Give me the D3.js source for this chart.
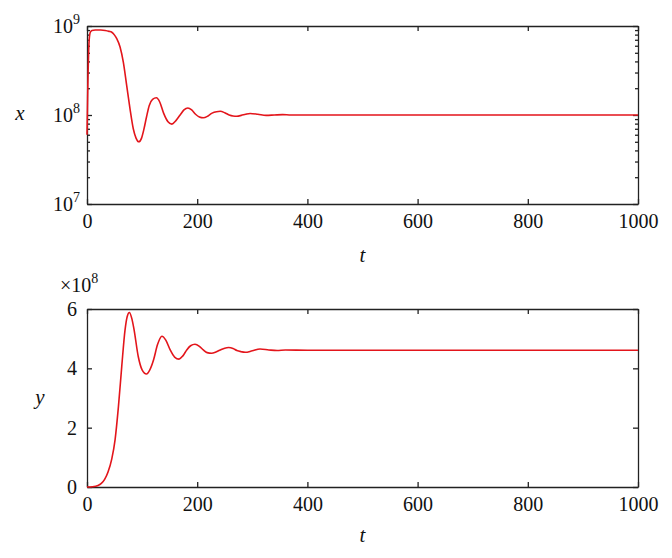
<!DOCTYPE html>
<html>
<head>
<meta charset="utf-8">
<script src="https://cdn.jsdelivr.net/npm/d3@7"></script>
<style>
  body { margin: 0; background: #fff; }
  svg { display: block; }
  .axis path, .axis line { stroke: #222; stroke-width: 1.3; }
  .curve { fill: none; stroke: #e3151b; stroke-width: 1.6; }
</style>
</head>
<body>
<svg width="672" height="558"></svg>
<script>
// top panel: x(t), log scale
const tX = [0, 1, 2, 3, 4, 6, 9, 15, 25, 33, 40, 45, 50, 54, 60, 66, 72, 78, 84, 89, 94, 99, 103, 108, 113, 119, 126, 132, 139, 147, 154, 161, 169, 176, 183, 190, 197, 204, 211, 219, 227, 235, 242, 250, 258, 265, 272, 280, 288, 296, 310, 325, 340, 355, 370, 400, 600, 800, 1000];
const xVals = [6e7, 1.4e8, 3e8, 5.2e8, 7e8, 8.5e8, 8.9e8, 9.0e8, 9.0e8, 8.9e8, 8.7e8, 8.5e8, 7.9e8, 7.2e8, 5.8e8, 3.9e8, 2.15e8, 1.18e8, 7e7, 5.5e7, 5.0e7, 5.5e7, 6.8e7, 9.5e7, 1.28e8, 1.5e8, 1.56e8, 1.4e8, 1.05e8, 8.4e7, 7.9e7, 8.6e7, 1.0e8, 1.14e8, 1.2e8, 1.14e8, 1.02e8, 9.5e7, 9.3e7, 9.7e7, 1.05e8, 1.09e8, 1.1e8, 1.06e8, 1.0e8, 9.75e7, 9.7e7, 9.9e7, 1.02e8, 1.04e8, 1.02e8, 9.9e7, 1.0e8, 1.01e8, 1.0e8, 1.0e8, 1.0e8, 1.0e8, 1.0e8];

// bottom panel: y(t), in units of 1e8
const tY = [0, 10, 20, 26, 32, 38, 45, 51, 57, 63, 69, 73, 77, 81, 85, 93, 100, 108, 114, 121, 128, 136, 143, 151, 159, 167, 174, 181, 188, 196, 204, 211, 218, 226, 234, 242, 250, 257, 265, 272, 280, 287, 300, 314, 330, 345, 360, 400, 600, 800, 1000];
const yVals = [0, 0.01, 0.05, 0.12, 0.26, 0.5, 0.95, 1.6, 2.7, 4.05, 5.29, 5.75, 5.88, 5.7, 5.35, 4.4, 3.95, 3.81, 3.95, 4.3, 4.8, 5.08, 4.95, 4.62, 4.38, 4.31, 4.42, 4.62, 4.76, 4.81, 4.74, 4.62, 4.53, 4.51, 4.55, 4.62, 4.68, 4.70, 4.67, 4.60, 4.56, 4.54, 4.59, 4.65, 4.62, 4.60, 4.62, 4.61, 4.61, 4.61, 4.61];

const tTicks = [0, 200, 400, 600, 800, 1000];
const yTicks = [0, 2, 4, 6];
const logMajor = [1e7, 1e8, 1e9];

const serif = "Liberation Serif, DejaVu Serif, Tinos, Nimbus Roman, FreeSerif, Times New Roman, Times, serif";

const svg = d3.select('svg');
const left = 87, right = 638;

const xScale = d3.scaleLinear().domain([0, 1000]).range([left, right]);

function styleText(sel) {
    sel.attr('font-family', null).attr('font-size', null);
    sel.selectAll('text')
        .style('font-family', serif)
        .style('font-size', '20px')
        .attr('fill', '#111');
}

function frame(g, top, bottom, leftAxis, rightAxis) {
    g.append('g').attr('class', 'axis')
        .attr('transform', `translate(0, ${bottom})`)
        .call(d3.axisBottom(xScale).tickValues(tTicks).tickFormat(d3.format('d'))
            .tickSizeInner(-5).tickSizeOuter(0).tickPadding(10))
        .call(styleText);
    g.append('g').attr('class', 'axis')
        .attr('transform', `translate(0, ${top})`)
        .call(d3.axisTop(xScale).tickValues(tTicks).tickSizeInner(-5).tickSizeOuter(0).tickFormat(''));
    g.append('g').attr('class', 'axis')
        .attr('transform', `translate(${left}, 0)`)
        .call(leftAxis)
        .call(styleText);
    g.append('g').attr('class', 'axis')
        .attr('transform', `translate(${right}, 0)`)
        .call(rightAxis);
}

function label(g, x, y, txt) {
    g.append('text')
        .attr('x', x)
        .attr('y', y)
        .attr('text-anchor', 'middle')
        .style('font-family', serif)
        .style('font-size', '21px')
        .style('font-style', 'italic')
        .attr('fill', '#111')
        .text(txt);
}

// ---- top panel
const top1 = 26, bot1 = 204;
const yLog = d3.scaleLog().domain([1e7, 1e9]).range([bot1, top1]);
const minorLog = yLog.ticks().filter(v => !logMajor.includes(v));

const g1 = svg.append('g');
frame(g1, top1, bot1,
    d3.axisLeft(yLog).tickValues(logMajor).tickSizeInner(-5).tickSizeOuter(0).tickFormat(''),
    d3.axisRight(yLog).tickValues(logMajor).tickSizeInner(-5).tickSizeOuter(0).tickFormat(''));
g1.append('g').attr('class', 'axis')
    .attr('transform', `translate(${left}, 0)`)
    .call(d3.axisLeft(yLog).tickValues(minorLog).tickSizeInner(-3).tickSizeOuter(0).tickFormat(''))
    .select('.domain').remove();
g1.append('g').attr('class', 'axis')
    .attr('transform', `translate(${right}, 0)`)
    .call(d3.axisRight(yLog).tickValues(minorLog).tickSizeInner(-3).tickSizeOuter(0).tickFormat(''))
    .select('.domain').remove();

const logLabels = g1.selectAll('.loglabel')
    .data(logMajor)
    .enter()
    .append('text')
    .attr('class', 'loglabel')
    .attr('x', left - 7)
    .attr('y', d => yLog(d) + 7)
    .attr('text-anchor', 'end')
    .style('font-family', serif)
    .style('font-size', '20px')
    .attr('fill', '#111');
logLabels.append('tspan').text('10');
logLabels.append('tspan')
    .attr('dy', -9)
    .style('font-size', '14px')
    .text(d => Math.round(Math.log10(d)));

g1.append('path')
    .datum(tX.map((t, i) => [t, xVals[i]]))
    .attr('class', 'curve')
    .attr('d', d3.line()
        .x(d => xScale(d[0]))
        .y(d => yLog(d[1]))
        .curve(d3.curveMonotoneX));

label(g1, 20, 120, 'x');
label(g1, (left + right) / 2, 262, 't');

// ---- bottom panel
const top2 = 309, bot2 = 487;
const yLin = d3.scaleLinear().domain([0, 6]).range([bot2, top2]);

const g2 = svg.append('g');
frame(g2, top2, bot2,
    d3.axisLeft(yLin).tickValues(yTicks).tickFormat(d3.format('d'))
        .tickSizeInner(-5).tickSizeOuter(0).tickPadding(10),
    d3.axisRight(yLin).tickValues(yTicks).tickSizeInner(-5).tickSizeOuter(0).tickFormat(''));

g2.append('path')
    .datum(tY.map((t, i) => [t, yVals[i]]))
    .attr('class', 'curve')
    .attr('d', d3.line()
        .x(d => xScale(d[0]))
        .y(d => yLin(d[1]))
        .curve(d3.curveMonotoneX));

const mult = g2.append('text')
    .attr('x', 60)
    .attr('y', 292)
    .style('font-family', serif)
    .style('font-size', '20px')
    .attr('fill', '#111');
mult.append('tspan').text('×10');
mult.append('tspan').attr('dy', -9).style('font-size', '14px').text('8');

label(g2, 40, 404, 'y');
label(g2, (left + right) / 2, 542, 't');
</script>
</body>
</html>
